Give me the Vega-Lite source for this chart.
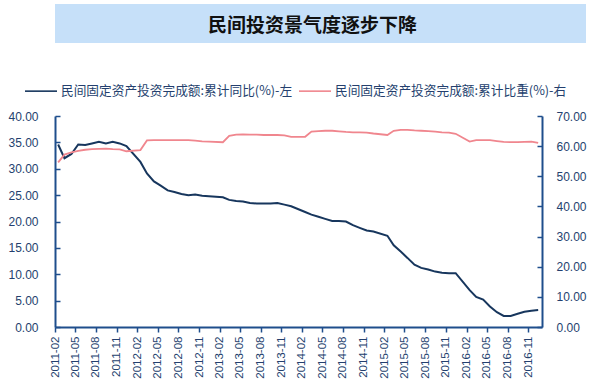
{
  "$schema": "https://vega.github.io/schema/vega-lite/v6.json",
  "padding": {"top": 4, "left": 7, "right": 0, "bottom": 0},
  "background": "white",
  "spacing": 67,
  "config": {
    "axis": {"grid": false, "domainColor": "#1F4E8C", "domainWidth": 2, "tickColor": "#1F4E8C", "tickWidth": 1.5, "labelFont": "Liberation Sans", "labelFontSize": 12, "labelColor": "#243F6E", "title": null}
  },
  "vconcat": [
    {
      "width": 531,
      "height": 39,
      "view": {"fill": "#C6E0F9", "stroke": null},
      "data": {"values": [{"t": "民间投资景气度逐步下降"}]},
      "mark": {"type": "text", "font": "Noto Sans CJK SC", "fontSize": 19, "fontWeight": "bold", "dx": -8, "dy": 2, "color": "#111111"},
      "encoding": {"text": {"field": "t"}}
    },
    {
      "width": 487,
      "height": 211,
      "view": {"stroke": null},
      "data": {"values": [
        {"d": "2011-02-15", "a": 34.6, "b": 54.6},
        {"d": "2011-03-15", "a": 32.0, "b": 57.2},
        {"d": "2011-04-15", "a": 32.8, "b": 57.9},
        {"d": "2011-05-15", "a": 34.6, "b": 58.4},
        {"d": "2011-06-15", "a": 34.5, "b": 58.8},
        {"d": "2011-07-15", "a": 34.8, "b": 59.0},
        {"d": "2011-08-15", "a": 35.1, "b": 59.1},
        {"d": "2011-09-15", "a": 34.8, "b": 59.2},
        {"d": "2011-10-15", "a": 35.1, "b": 59.0},
        {"d": "2011-11-15", "a": 34.8, "b": 58.9},
        {"d": "2011-12-15", "a": 34.3, "b": 58.3},
        {"d": "2012-02-15", "a": 31.3, "b": 58.7},
        {"d": "2012-03-15", "a": 29.1, "b": 61.9},
        {"d": "2012-04-15", "a": 27.6, "b": 62.0},
        {"d": "2012-05-15", "a": 26.8, "b": 62.0},
        {"d": "2012-06-15", "a": 25.9, "b": 62.0},
        {"d": "2012-07-15", "a": 25.6, "b": 62.0},
        {"d": "2012-08-15", "a": 25.2, "b": 62.0},
        {"d": "2012-09-15", "a": 25.0, "b": 62.0},
        {"d": "2012-10-15", "a": 25.1, "b": 61.8},
        {"d": "2012-11-15", "a": 24.9, "b": 61.6},
        {"d": "2012-12-15", "a": 24.8, "b": 61.5},
        {"d": "2013-02-15", "a": 24.6, "b": 61.3},
        {"d": "2013-03-15", "a": 24.1, "b": 63.4},
        {"d": "2013-04-15", "a": 23.9, "b": 63.8},
        {"d": "2013-05-15", "a": 23.8, "b": 63.9},
        {"d": "2013-06-15", "a": 23.5, "b": 63.8},
        {"d": "2013-07-15", "a": 23.4, "b": 63.8},
        {"d": "2013-08-15", "a": 23.4, "b": 63.7},
        {"d": "2013-09-15", "a": 23.4, "b": 63.7},
        {"d": "2013-10-15", "a": 23.5, "b": 63.7},
        {"d": "2013-11-15", "a": 23.2, "b": 63.6},
        {"d": "2013-12-15", "a": 22.9, "b": 63.1},
        {"d": "2014-02-15", "a": 21.8, "b": 63.1},
        {"d": "2014-03-15", "a": 21.3, "b": 64.8},
        {"d": "2014-04-15", "a": 20.9, "b": 65.0},
        {"d": "2014-05-15", "a": 20.5, "b": 65.1},
        {"d": "2014-06-15", "a": 20.1, "b": 65.1},
        {"d": "2014-07-15", "a": 20.1, "b": 64.9},
        {"d": "2014-08-15", "a": 20.0, "b": 64.7},
        {"d": "2014-09-15", "a": 19.3, "b": 64.6},
        {"d": "2014-10-15", "a": 18.8, "b": 64.6},
        {"d": "2014-11-15", "a": 18.3, "b": 64.5},
        {"d": "2014-12-15", "a": 18.1, "b": 64.2},
        {"d": "2015-02-15", "a": 17.3, "b": 63.7},
        {"d": "2015-03-15", "a": 15.5, "b": 65.1},
        {"d": "2015-04-15", "a": 14.3, "b": 65.4},
        {"d": "2015-05-15", "a": 13.1, "b": 65.4},
        {"d": "2015-06-15", "a": 11.8, "b": 65.2},
        {"d": "2015-07-15", "a": 11.2, "b": 65.1},
        {"d": "2015-08-15", "a": 10.9, "b": 65.0},
        {"d": "2015-09-15", "a": 10.5, "b": 64.8},
        {"d": "2015-10-15", "a": 10.3, "b": 64.6},
        {"d": "2015-11-15", "a": 10.2, "b": 64.5},
        {"d": "2015-12-15", "a": 10.2, "b": 64.1},
        {"d": "2016-02-15", "a": 7.0, "b": 61.5},
        {"d": "2016-03-15", "a": 5.7, "b": 62.0},
        {"d": "2016-04-15", "a": 5.2, "b": 62.0},
        {"d": "2016-05-15", "a": 3.9, "b": 62.0},
        {"d": "2016-06-15", "a": 2.8, "b": 61.7},
        {"d": "2016-07-15", "a": 2.1, "b": 61.4},
        {"d": "2016-08-15", "a": 2.1, "b": 61.3},
        {"d": "2016-09-15", "a": 2.5, "b": 61.3},
        {"d": "2016-10-15", "a": 2.9, "b": 61.4},
        {"d": "2016-11-15", "a": 3.1, "b": 61.5},
        {"d": "2016-12-15", "a": 3.2, "b": 61.1}
      ]},
      "encoding": {
        "x": {
          "field": "d", "type": "temporal",
          "scale": {"type": "utc", "domain": [{"year": 2011, "month": 2, "date": 1, "utc": true}, {"year": 2017, "month": 1, "date": 1, "utc": true}]},
          "axis": {
            "labelExpr": "utcFormat(datum.value, '%Y-%m')", "labelAngle": -90, "labelFontSize": 11.5, "tickSize": 5, "labelPadding": 4,
            "values": [
              {"year": 2011, "month": 2, "date": 1, "utc": true}, {"year": 2011, "month": 5, "date": 1, "utc": true}, {"year": 2011, "month": 8, "date": 1, "utc": true}, {"year": 2011, "month": 11, "date": 1, "utc": true},
              {"year": 2012, "month": 2, "date": 1, "utc": true}, {"year": 2012, "month": 5, "date": 1, "utc": true}, {"year": 2012, "month": 8, "date": 1, "utc": true}, {"year": 2012, "month": 11, "date": 1, "utc": true},
              {"year": 2013, "month": 2, "date": 1, "utc": true}, {"year": 2013, "month": 5, "date": 1, "utc": true}, {"year": 2013, "month": 8, "date": 1, "utc": true}, {"year": 2013, "month": 11, "date": 1, "utc": true},
              {"year": 2014, "month": 2, "date": 1, "utc": true}, {"year": 2014, "month": 5, "date": 1, "utc": true}, {"year": 2014, "month": 8, "date": 1, "utc": true}, {"year": 2014, "month": 11, "date": 1, "utc": true},
              {"year": 2015, "month": 2, "date": 1, "utc": true}, {"year": 2015, "month": 5, "date": 1, "utc": true}, {"year": 2015, "month": 8, "date": 1, "utc": true}, {"year": 2015, "month": 11, "date": 1, "utc": true},
              {"year": 2016, "month": 2, "date": 1, "utc": true}, {"year": 2016, "month": 5, "date": 1, "utc": true}, {"year": 2016, "month": 8, "date": 1, "utc": true}, {"year": 2016, "month": 11, "date": 1, "utc": true}
            ]
          }
        },
        "color": {
          "scale": {"domain": ["民间固定资产投资完成额:累计同比(%)-左", "民间固定资产投资完成额:累计比重(%)-右"], "range": ["#17365D", "#F0868E"]},
          "legend": {"orient": "none", "legendX": -31, "legendY": 70, "direction": "horizontal", "title": null, "symbolType": "stroke", "symbolSize": 1024, "symbolStrokeWidth": 1.6, "labelFont": "Noto Sans CJK SC", "labelFontSize": 12.7, "labelColor": "#243F6E", "labelLimit": 0, "labelOffset": 3, "columnPadding": 2}
        }
      },
      "layer": [
        {
          "mark": {"type": "line", "strokeWidth": 2},
          "encoding": {
            "y": {"field": "a", "type": "quantitative", "scale": {"domain": [0, 40]}, "axis": {"orient": "left", "values": [0, 5, 10, 15, 20, 25, 30, 35, 40], "format": ".2f", "tickSize": -5, "labelPadding": 22}},
            "color": {"datum": "民间固定资产投资完成额:累计同比(%)-左"}
          }
        },
        {
          "mark": {"type": "line", "strokeWidth": 1.8},
          "encoding": {
            "y": {"field": "b", "type": "quantitative", "scale": {"domain": [0, 70]}, "axis": {"orient": "right", "values": [0, 10, 20, 30, 40, 50, 60, 70], "format": ".2f", "tickSize": -5, "labelPadding": 19}},
            "color": {"datum": "民间固定资产投资完成额:累计比重(%)-右"}
          }
        }
      ],
      "resolve": {"scale": {"y": "independent"}}
    }
  ]
}
